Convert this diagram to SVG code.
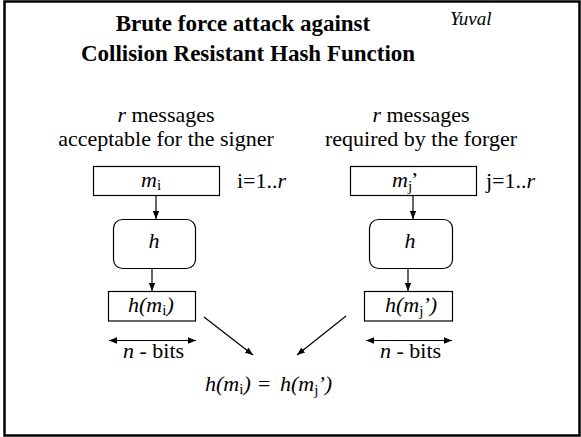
<svg xmlns="http://www.w3.org/2000/svg" width="581" height="437" viewBox="0 0 581 437">
<defs>
<marker id="ah" viewBox="0 0 10 8" refX="10" refY="4" markerWidth="8" markerHeight="6.4" markerUnits="userSpaceOnUse" orient="auto-start-reverse">
<path d="M0,0 L10,4 L0,8 Z" fill="#000"/>
</marker>
</defs>
<rect x="4.5" y="1.5" width="575" height="434" fill="#fff" stroke="#000" stroke-width="2.5"/>
<g id="title">
<text font-family="Liberation Serif" font-size="23" font-weight="bold" text-anchor="middle" x="243" y="31">Brute force attack against</text>
<text font-family="Liberation Serif" font-size="23" font-weight="bold" text-anchor="middle" x="248" y="61">Collision Resistant Hash Function</text>
<text font-family="Liberation Serif" font-style="italic" x="450" y="25" font-size="19">Yuval</text>
</g>
<g id="left-label">
<text font-family="Liberation Serif" font-size="22" text-anchor="middle" x="166" y="122"><tspan font-style="italic">r</tspan> messages</text>
<text font-family="Liberation Serif" font-size="22" text-anchor="middle" x="166" y="146">acceptable for the signer</text>
</g>
<g id="right-label">
<text font-family="Liberation Serif" font-size="22" text-anchor="middle" x="421" y="122"><tspan font-style="italic">r</tspan> messages</text>
<text font-family="Liberation Serif" font-size="22" text-anchor="middle" x="421" y="146">required by the forger</text>
</g>
<g id="mi">
<rect fill="#fff" stroke="#000" stroke-width="1.2" x="93.5" y="166.5" width="126" height="29"/>
<text font-family="Liberation Serif" font-size="22" x="141" y="187"><tspan font-style="italic">m</tspan><tspan font-size="15" dy="3">i</tspan></text>
</g>
<text font-family="Liberation Serif" font-size="22" x="237" y="188">i=1..<tspan font-style="italic">r</tspan></text>
<g id="mj">
<rect fill="#fff" stroke="#000" stroke-width="1.2" x="350.5" y="166.5" width="126" height="29"/>
<text font-family="Liberation Serif" font-size="22" x="392" y="187"><tspan font-style="italic">m</tspan><tspan font-size="15" dy="4">j</tspan><tspan dy="-4" dx="-1">&#8217;</tspan></text>
</g>
<text font-family="Liberation Serif" font-size="22" x="486" y="188">j=1..<tspan font-style="italic">r</tspan></text>
<g id="h-left">
<rect fill="#fff" stroke="#000" stroke-width="1.2" x="113.5" y="219.5" width="82" height="49" rx="9"/>
<text font-family="Liberation Serif" font-size="22" font-style="italic" text-anchor="middle" x="154" y="248">h</text>
</g>
<g id="h-right">
<rect fill="#fff" stroke="#000" stroke-width="1.2" x="369.5" y="219.5" width="83" height="49" rx="9"/>
<text font-family="Liberation Serif" font-size="22" font-style="italic" text-anchor="middle" x="410" y="248">h</text>
</g>
<g id="hmi">
<rect fill="#fff" stroke="#000" stroke-width="1.2" x="108.5" y="291.5" width="87" height="29.5"/>
<text font-family="Liberation Serif" font-size="22" x="128" y="312"><tspan font-style="italic">h(m</tspan><tspan font-size="15" dy="3">i</tspan><tspan font-style="italic" dy="-3">)</tspan></text>
</g>
<g id="hmj">
<rect fill="#fff" stroke="#000" stroke-width="1.2" x="364.5" y="291.5" width="88" height="29.5"/>
<text font-family="Liberation Serif" font-size="22" x="385" y="312"><tspan font-style="italic">h(m</tspan><tspan font-size="15" dy="4">j</tspan><tspan font-style="italic" dy="-4" dx="-1">&#8217;)</tspan></text>
</g>
<g id="nbits-left">
<text font-family="Liberation Serif" font-size="22" x="123" y="358"><tspan font-style="italic">n</tspan> - bits</text>
</g>
<g id="nbits-right">
<text font-family="Liberation Serif" font-size="22" x="380" y="358"><tspan font-style="italic">n</tspan> - bits</text>
</g>
<g id="result">
<text font-family="Liberation Serif" font-size="22" x="205" y="391"><tspan font-style="italic">h(m</tspan><tspan font-size="15" dy="3">i</tspan><tspan font-style="italic" dy="-3">)</tspan></text>
<text font-family="Liberation Serif" font-size="22" x="258" y="391">=</text>
<text font-family="Liberation Serif" font-size="22" x="280" y="391"><tspan font-style="italic">h(m</tspan><tspan font-size="15" dy="4">j</tspan><tspan font-style="italic" dy="-4" dx="-1">&#8217;)</tspan></text>
</g>
<g id="connectors" stroke="#000" stroke-width="1.2" fill="none">
<line x1="156" y1="196" x2="156" y2="219" marker-end="url(#ah)"/>
<line x1="413" y1="196" x2="413" y2="219" marker-end="url(#ah)"/>
<line x1="152" y1="269" x2="152" y2="291" marker-end="url(#ah)"/>
<line x1="408" y1="269" x2="408" y2="291" marker-end="url(#ah)"/>
<line x1="109" y1="340.5" x2="196" y2="340.5" marker-start="url(#ah)" marker-end="url(#ah)"/>
<line x1="366" y1="340.5" x2="452" y2="340.5" marker-start="url(#ah)" marker-end="url(#ah)"/>
<line x1="204" y1="317" x2="253" y2="355" marker-end="url(#ah)"/>
<line x1="346" y1="316" x2="297" y2="355" marker-end="url(#ah)"/>
</g>
</svg>
